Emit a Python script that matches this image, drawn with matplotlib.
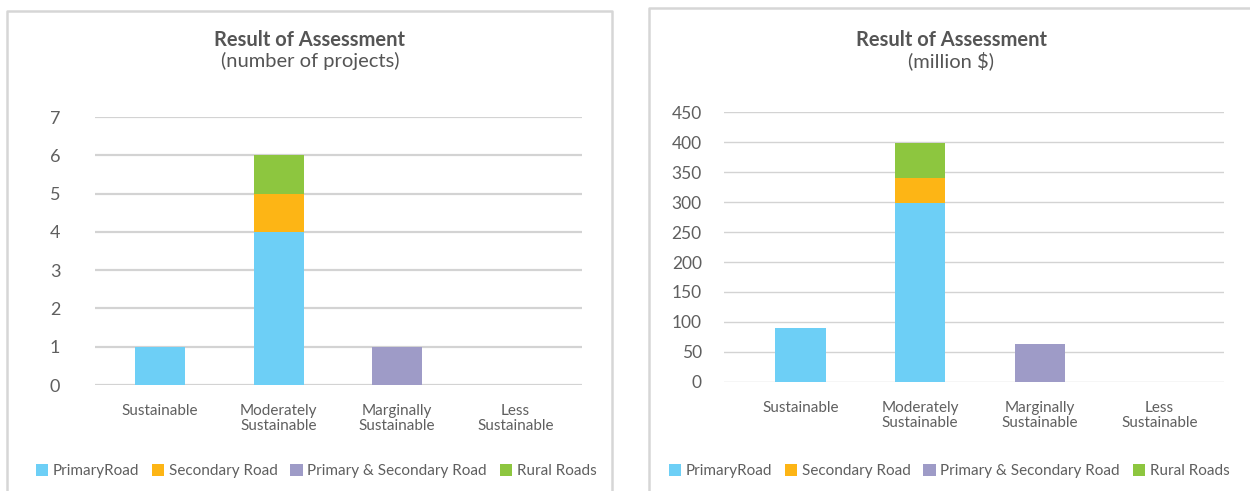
import matplotlib
matplotlib.use("Agg")
import matplotlib.pyplot as plt
from matplotlib.lines import Line2D
from matplotlib.patches import Patch
import numpy as np

plt.rcParams['font.family'] = ['Lato', 'DejaVu Sans']

categories = ["Sustainable", "Moderately\nSustainable", "Marginally\nSustainable", "Less\nSustainable"]
series_names = ["PrimaryRoad", "Secondary Road", "Primary & Secondary Road", "Rural Roads"]
colors = ["#6DCFF6", "#FDB515", "#9E9BC7", "#8DC63F"]

# Left chart: number of projects
count_primary = [1, 4, 0, 0]
count_secondary = [0, 1, 0, 0]
count_prim_sec = [0, 0, 1, 0]
count_rural = [0, 1, 0, 0]

# Right chart: million $
cost_primary = [90, 298, 0, 0]
cost_secondary = [0, 42, 0, 0]
cost_prim_sec = [0, 0, 63, 0]
cost_rural = [0, 59, 0, 0]

W, H = 1250, 491
fig = plt.figure(figsize=(W / 100, H / 100), dpi=100)
fig.patch.set_facecolor("white")

def fx(px):
    return px / W

def fy(py):
    return 1 - py / H

TXT = "#5f5f5f"
GRID = "#d3d3d3"
BORDER = "#d6d6d6"

# panel borders
fig.add_artist(Line2D([fx(7), fx(7), fx(612), fx(612)], [fy(H), fy(11), fy(11), fy(H)],
                      transform=fig.transFigure, color=BORDER, lw=1.8))
fig.add_artist(Line2D([fx(649), fx(649), fx(W)], [fy(H), fy(8), fy(8)],
                      transform=fig.transFigure, color=BORDER, lw=1.8))


def draw(ax, series, ymax, yticks, xlim, bar_w, grid_lw, tick_pad, tick_fs):
    x = np.arange(len(categories))
    bottom = np.zeros(len(categories))
    for vals, c in zip(series, colors):
        vals = np.array(vals, dtype=float)
        ax.bar(x, vals, bottom=bottom, width=bar_w, color=c, zorder=3, linewidth=0)
        bottom += vals
    ax.set_xlim(*xlim)
    ax.set_ylim(0, ymax)
    ax.set_yticks(yticks)
    ax.set_xticks(x)
    ax.set_xticklabels(categories, fontsize=11, color=TXT, linespacing=1.05)
    ax.tick_params(axis='x', length=0, pad=14)
    ax.tick_params(axis='y', length=0, pad=tick_pad, labelsize=tick_fs, labelcolor=TXT)
    for s in ax.spines.values():
        s.set_visible(False)
    for yt in yticks:
        ax.axhline(yt, color=GRID, lw=grid_lw, zorder=1)
    ax.set_facecolor("none")


# Left axes
axL = fig.add_axes([fx(95), fy(385), fx(582 - 95), (385 - 117) / H])
draw(axL, [count_primary, count_secondary, count_prim_sec, count_rural],
     7, range(0, 8), (-0.55, 3.56), 0.42, 1.6, 25, 13)

# Right axes
axR = fig.add_axes([fx(724), fy(382), fx(1224 - 724), (382 - 112) / H])
draw(axR, [cost_primary, cost_secondary, cost_prim_sec, cost_rural],
     450, range(0, 451, 50), (-0.64, 3.54), 0.42, 1.0, 16, 12.5)

# titles
for cx, sub in [(310, "(number of projects)"), (951, "(million $)")]:
    fig.text(fx(cx), fy(40), "Result of Assessment", ha='center', va='center',
             fontsize=14.5, fontweight='bold', color="#555555")
    fig.text(fx(cx), fy(61), sub, ha='center', va='center', fontsize=14.5, color="#555555")

# legends
handles = [Patch(facecolor=c, edgecolor='none') for c in colors]
for cx in [316, 949]:
    fig.legend(handles, series_names, loc='center', bbox_to_anchor=(fx(cx), fy(471)),
               ncol=4, frameon=False, fontsize=11, labelcolor=TXT,
               handlelength=0.8, handleheight=0.8, handletextpad=0.3,
               columnspacing=0.85, borderpad=0, borderaxespad=0)

fig.savefig("out.png", dpi=100, facecolor="white")
